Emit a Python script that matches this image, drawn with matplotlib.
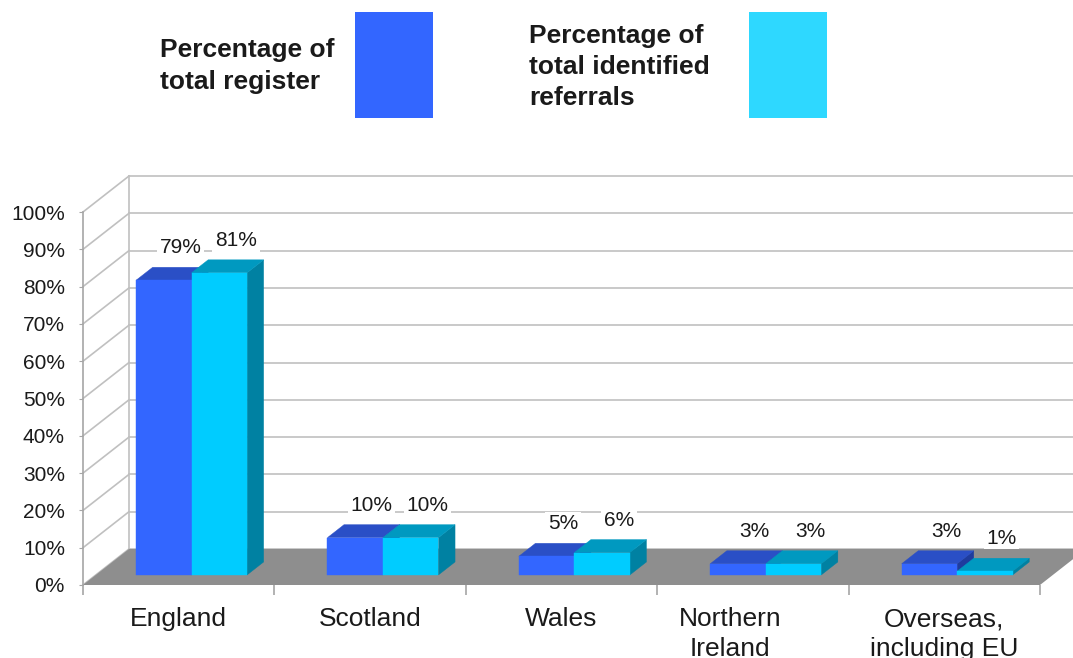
import matplotlib.pyplot as plt
from matplotlib.patches import Polygon, Rectangle

plt.rcParams["font.family"] = ["Liberation Sans", "DejaVu Sans"]

categories = ["England", "Scotland", "Wales", "Northern\nIreland", "Overseas,\nincluding EU"]
register_pct = [79, 10, 5, 3, 3]
referral_pct = [81, 10, 6, 3, 1]
series_names = ["Percentage of\ntotal register", "Percentage of\ntotal identified\nreferrals"]
y_ticks = list(range(0, 101, 10))

# front face / top face / right side face per series
BLUE = ("#3366FF", "#2A4FC6", "#1F3C9E")
CYAN = ("#00CCFF", "#0099C0", "#0081A2")
LEGEND_COLORS = ["#3366FF", "#2ED8FF"]
GRID = "#C0C0C0"
FLOOR = "#8E8E8E"
TEXT = "#1A1A1A"

W, H = 1073, 658
fig = plt.figure(figsize=(W / 100, H / 100), dpi=100)
ax = fig.add_axes([83 / W, 1 - 585 / H, (1040 - 83) / W, (585 - 212) / H])
ax.set_xlim(0, len(categories))
ax.set_ylim(0, 100)

# depth of the fake 3d box, converted from pixels into data units
px_per_cat = (1040 - 83) / len(categories)
px_per_pct = (585 - 212) / 100
DX = 46 / px_per_cat
DY = 36 / px_per_pct
BW = 0.29          # bar width in category units
F0, F1 = 0.28, 0.64  # bar depth range, as fraction of the box depth


def pt(x, y, d):
    return (x + d * DX, y + d * DY)


n = len(categories)

# back wall and left side wall gridlines
for v in y_ticks:
    ax.plot([DX, n + DX + 1], [v + DY, v + DY], color=GRID, lw=1.2, clip_on=False, zorder=1)
    ax.plot([0, DX], [v, v + DY], color=GRID, lw=1.2, clip_on=False, zorder=1)
ax.plot([DX, DX], [DY, 100 + DY], color=GRID, lw=1.2, clip_on=False, zorder=1)

# floor
ax.add_patch(Polygon([(0, 0), (n, 0), (n + DX, DY), (DX, DY)], closed=True,
                     fc=FLOOR, ec="none", clip_on=False, zorder=2))

z = 3
for i in range(n):
    for j, (vals, cols) in enumerate([(register_pct, BLUE), (referral_pct, CYAN)]):
        v = vals[i]
        x0 = i + 0.5 - BW + j * BW
        x1 = x0 + BW
        side = [pt(x1, 0, F0), pt(x1, 0, F1), pt(x1, v, F1), pt(x1, v, F0)]
        top = [pt(x0, v, F0), pt(x1, v, F0), pt(x1, v, F1), pt(x0, v, F1)]
        front = [pt(x0, 0, F0), pt(x1, 0, F0), pt(x1, v, F0), pt(x0, v, F0)]
        for poly, c in [(side, cols[2]), (top, cols[1]), (front, cols[0])]:
            ax.add_patch(Polygon(poly, closed=True, fc=c, ec=c, lw=0.3,
                                 clip_on=False, zorder=z))
        z += 1
        # labels sit behind the floor so their white box only breaks gridlines
        ax.annotate(f"{v}%", xy=pt((x0 + x1) / 2, v, F1), xytext=(0, 14),
                    textcoords="offset points", ha="center", va="center",
                    fontsize=15, color=TEXT, zorder=1.5,
                    bbox=dict(fc="white", ec="none", pad=2))

# category labels under the floor
for i, lab in enumerate(categories):
    dx = -16.5 if lab.startswith("Northern") else 0
    ax.annotate(lab, xy=(i + 0.5, 0), xytext=(dx, -16), textcoords="offset points",
                ha="center", va="top", fontsize=19, color=TEXT,
                linespacing=1.3, annotation_clip=False)

# axes
for s in ["top", "right", "bottom"]:
    ax.spines[s].set_visible(False)
ax.spines["left"].set_color("#A6A6A6")
ax.spines["left"].set_linewidth(1.2)
ax.set_yticks(y_ticks, [f"{v}%" for v in y_ticks])
ax.tick_params(axis="y", length=3, color="#A6A6A6", pad=10, labelsize=15, labelcolor=TEXT)
ax.set_xticks(range(n + 1), [""] * (n + 1))
ax.tick_params(axis="x", length=7, width=1.2, color="#A6A6A6")
ax.patch.set_alpha(0)

# legend boxes at the top
for k, (x_txt, x_box, y_mid, ls) in enumerate([(160, 355, 66, 1.45), (529, 749, 67, 1.35)]):
    fig.patches.append(Rectangle((x_box / W, 1 - 118 / H), 78 / W, 106 / H,
                                 transform=fig.transFigure, fc=LEGEND_COLORS[k], ec="none"))
    fig.text(x_txt / W, 1 - y_mid / H, series_names[k], ha="left", va="center",
             fontsize=19, fontweight="bold", color=TEXT, linespacing=ls)

fig.savefig("out.png", dpi=100)
